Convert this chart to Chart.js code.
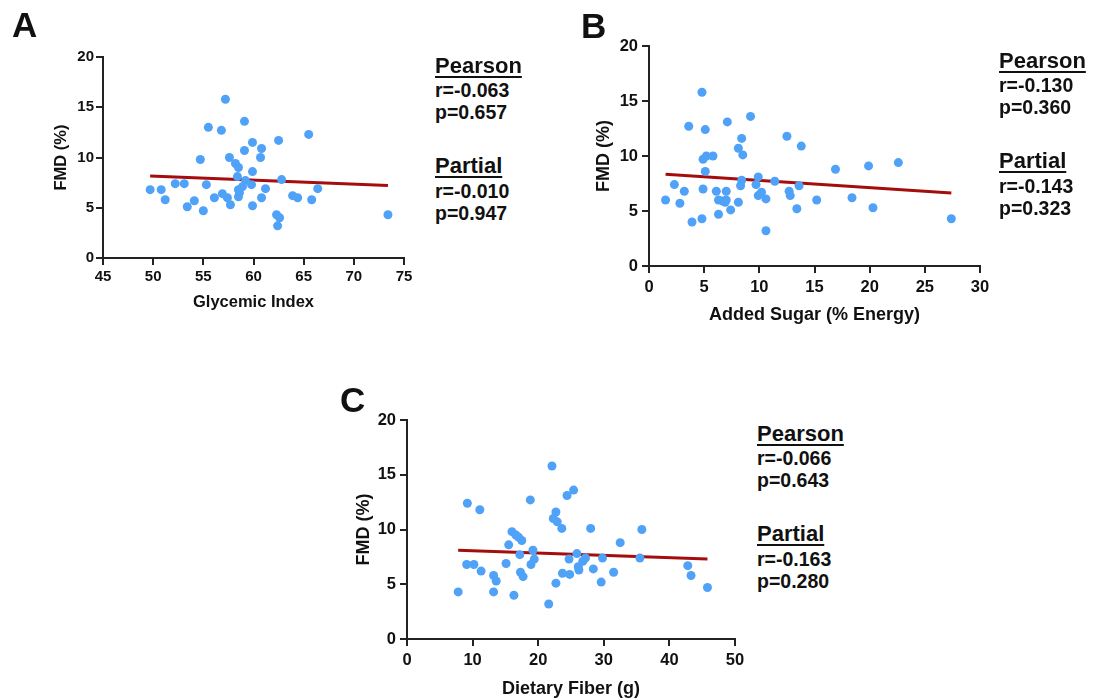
<!DOCTYPE html>
<html>
<head>
<meta charset="utf-8">
<script src="https://cdn.jsdelivr.net/npm/chart.js@4.4.1/dist/chart.umd.min.js"></script>
<style>
  html, body { margin: 0; padding: 0; background: #fff; overflow: hidden; }
  body { width: 1099px; height: 700px; position: relative; font-family: "Liberation Sans", Arial, sans-serif; color: #111; }
  canvas { position: absolute; }
  .letter { position: absolute; font-size: 35px; font-weight: bold; line-height: 1; }
  .stat { position: absolute; font-weight: bold; line-height: 1; white-space: nowrap; }
  .head { font-size: 22px; text-decoration: underline; text-decoration-thickness: 2px; text-underline-offset: 3px; }
  .val { font-size: 19.5px; }
</style>
</head>
<body>
<canvas id="chartA"></canvas>
<canvas id="chartB"></canvas>
<canvas id="chartC"></canvas>
<script>
// Panel A - Glycemic Index vs FMD
const giX = [49.7, 50.8, 51.2, 52.2, 53.1, 53.4, 54.1, 54.7, 55.0, 55.3, 55.5, 56.1, 56.8, 56.9, 57.2, 57.4, 57.6, 57.7, 58.2, 58.4,
             58.5, 58.5, 58.5, 58.6, 58.9, 59.1, 59.1, 59.2, 59.8, 59.9, 59.9, 59.9, 60.7, 60.8, 60.8, 61.2, 62.5, 62.3, 62.6, 62.4,
             62.8, 63.9, 64.4, 65.5, 65.8, 66.4, 73.4];
const giY = [6.8, 6.8, 5.8, 7.4, 7.4, 5.1, 5.7, 9.8, 4.7, 7.3, 13.0, 6.0, 12.7, 6.4, 15.8, 6.0, 10.0, 5.3, 9.4, 8.1,
             9.0, 6.8, 6.1, 6.5, 7.1, 10.7, 13.6, 7.7, 7.3, 8.6, 11.5, 5.2, 10.0, 10.9, 6.0, 6.9, 11.7, 4.3, 4.0, 3.2,
             7.8, 6.2, 6.0, 12.3, 5.8, 6.9, 4.3];
const giFitX = [49.7, 73.4];
const giFitY = [8.17, 7.21];

// Panel B - Added sugar vs FMD
const sugarX = [1.5, 2.3, 3.2, 2.8, 3.6, 3.9, 4.8, 4.8, 4.9, 4.9, 5.1, 5.2, 5.1, 5.8, 6.1, 6.3, 6.3, 6.7, 6.9, 7.0,
                7.0, 7.1, 7.4, 8.1, 8.1, 8.4, 8.5, 8.3, 8.4, 9.2, 9.7, 9.9, 9.9, 10.2, 10.6, 10.6, 11.4, 12.5, 12.7, 12.8,
                13.4, 13.6, 13.8, 15.2, 16.9, 18.4, 19.9, 20.3, 22.6, 27.4];
const sugarY = [6.0, 7.4, 6.8, 5.7, 12.7, 4.0, 15.8, 4.3, 9.7, 7.0, 12.4, 10.0, 8.6, 10.0, 6.8, 4.7, 6.0, 5.9, 5.8, 6.8,
                6.0, 13.1, 5.1, 5.8, 10.7, 11.6, 10.1, 7.3, 7.8, 13.6, 7.4, 8.1, 6.4, 6.7, 6.1, 3.2, 7.7, 11.8, 6.8, 6.4,
                5.2, 7.3, 10.9, 6.0, 8.8, 6.2, 9.1, 5.3, 9.4, 4.3];
const sugarFitX = [1.5, 27.4];
const sugarFitY = [8.35, 6.63];

// Panel C - Dietary fiber vs FMD
const fiberX = [7.8, 9.1, 9.2, 10.2, 11.1, 11.3, 13.2, 13.2, 13.6, 15.1, 15.5, 16.0, 16.3, 16.6, 17.0, 17.2, 17.5, 17.3, 17.7, 18.8,
                18.9, 19.2, 19.4, 21.6, 22.1, 22.3, 22.7, 22.7, 22.9, 23.6, 23.7, 24.4, 24.8, 24.7, 25.4, 25.9, 26.1, 26.2, 26.8, 27.2,
                28.0, 28.4, 29.6, 29.8, 31.5, 32.5, 35.5, 35.8, 42.8, 43.3, 45.8];
const fiberY = [4.3, 6.8, 12.4, 6.8, 11.8, 6.2, 4.3, 5.8, 5.3, 6.9, 8.6, 9.8, 4.0, 9.5, 9.3, 7.7, 9.0, 6.1, 5.7, 12.7,
                6.8, 8.1, 7.3, 3.2, 15.8, 11.0, 11.6, 5.1, 10.7, 10.1, 6.0, 13.1, 5.9, 7.3, 13.6, 7.8, 6.6, 6.3, 7.1, 7.4,
                10.1, 6.4, 5.2, 7.4, 6.1, 8.8, 7.4, 10.0, 6.7, 5.8, 4.7];
const fiberFitX = [7.8, 45.8];
const fiberFitY = [8.10, 7.31];

// Labels and stats
const panelLetters = ['A', 'B', 'C'];
const xTitles = ['Glycemic Index', 'Added Sugar (% Energy)', 'Dietary Fiber (g)'];
const yTitle = 'FMD (%)';
const statHeads = ['Pearson', 'Partial'];
const pearsonR = ['-0.063', '-0.130', '-0.066'];
const pearsonP = ['0.657', '0.360', '0.643'];
const partialR = ['-0.010', '-0.143', '-0.163'];
const partialP = ['0.947', '0.323', '0.280'];

const FONT = '"Liberation Sans", Arial, sans-serif';
const INK = '#111111';
const pointBlue = '#4fa2f7';
const fitRed = '#a50d0d';

function toPoints(xs, ys) {
    return xs.map((x, i) => ({ x: x, y: ys[i] }));
}

function makePanel(id, box, area, cfg) {
    const canvas = document.getElementById(id);
    canvas.width = box.w;
    canvas.height = box.h;
    canvas.style.left = box.x + 'px';
    canvas.style.top = box.y + 'px';

    const yAxisWidth = area.left - box.x;
    const xAxisHeight = cfg.xAxisHeight;

    const axisCommon = {
        type: 'linear',
        border: { display: true, color: '#222', width: 2 },
        grid: { display: true, drawOnChartArea: false, drawTicks: true, tickLength: 7, color: '#222', lineWidth: 2 }
    };

    return new Chart(canvas, {
        type: 'scatter',
        data: {
            datasets: [{
                data: toPoints(cfg.xs, cfg.ys),
                backgroundColor: pointBlue,
                borderWidth: 0,
                pointRadius: 4.5,
                order: 1
            }, {
                type: 'line',
                data: toPoints(cfg.fitX, cfg.fitY),
                borderColor: fitRed,
                borderWidth: 3,
                pointRadius: 0,
                fill: false,
                order: 2
            }]
        },
        options: {
            responsive: false,
            animation: false,
            devicePixelRatio: 1,
            layout: {
                padding: {
                    left: 0,
                    top: area.top - box.y,
                    right: box.x + box.w - area.right,
                    bottom: box.y + box.h - area.bottom - xAxisHeight
                }
            },
            plugins: { legend: { display: false }, tooltip: { enabled: false } },
            scales: {
                x: {
                    ...axisCommon,
                    min: cfg.xMin,
                    max: cfg.xMax,
                    ticks: { stepSize: cfg.xStep, color: INK, padding: cfg.xTickPad,
                             font: { family: FONT, size: cfg.tickSize, weight: 'bold' } },
                    title: { display: true, text: cfg.xTitle, color: INK, padding: { top: 0, bottom: cfg.xTitlePad },
                             font: { family: FONT, size: cfg.titleSize, weight: 'bold' } },
                    afterFit: s => { s.height = xAxisHeight; }
                },
                y: {
                    ...axisCommon,
                    min: 0,
                    max: 20,
                    ticks: { stepSize: 5, color: INK, padding: cfg.yTickPad,
                             font: { family: FONT, size: cfg.tickSize, weight: 'bold' } },
                    title: { display: true, text: yTitle, color: INK, padding: { top: cfg.yTitlePad, bottom: 0 },
                             font: { family: FONT, size: cfg.titleSize, weight: 'bold' } },
                    afterFit: s => { s.width = yAxisWidth; }
                }
            }
        }
    });
}

// Chart A
makePanel('chartA', { x: 30, y: 30, w: 400, h: 300 }, { left: 103, top: 57, right: 404, bottom: 258 }, {
    xs: giX, ys: giY, fitX: giFitX, fitY: giFitY, xMin: 45, xMax: 75, xStep: 5,
    xTitle: xTitles[0], tickSize: 15, titleSize: 16.5, xAxisHeight: 60,
    xTickPad: 3, yTickPad: 2, xTitlePad: 6, yTitlePad: 22
});

// Chart B
makePanel('chartB', { x: 560, y: 20, w: 440, h: 320 }, { left: 649, top: 46, right: 980, bottom: 266 }, {
    xs: sugarX, ys: sugarY, fitX: sugarFitX, fitY: sugarFitY, xMin: 0, xMax: 30, xStep: 5,
    xTitle: xTitles[1], tickSize: 16.5, titleSize: 18, xAxisHeight: 70,
    xTickPad: 5, yTickPad: 4, xTitlePad: 10, yTitlePad: 33
});

// Chart C
makePanel('chartC', { x: 320, y: 395, w: 430, h: 305 }, { left: 407, top: 420, right: 735, bottom: 639 }, {
    xs: fiberX, ys: fiberY, fitX: fiberFitX, fitY: fiberFitY, xMin: 0, xMax: 50, xStep: 10,
    xTitle: xTitles[2], tickSize: 16.5, titleSize: 18, xAxisHeight: 61,
    xTickPad: 5, yTickPad: 4, xTitlePad: 0, yTitlePad: 33
});

// Panel letters and correlation text as real text
function addText(cls, text, left, top) {
    const el = document.createElement('div');
    el.className = cls;
    el.textContent = text;
    el.style.left = left + 'px';
    el.style.top = top + 'px';
    document.body.appendChild(el);
}

const letterPos = [[12, 7.4], [581, 8.4], [340, 382.4]];
panelLetters.forEach((l, i) => addText('letter', l, letterPos[i][0], letterPos[i][1]));

// x and baseline of the "Pearson" line for each panel
const statPos = [[435, 74], [999, 69], [757, 442]];
const lineOffsets = [0, 24, 46, 100, 125, 147];
statPos.forEach(([x, base], i) => {
    const lines = [
        ['stat head', statHeads[0], 22],
        ['stat val', 'r=' + pearsonR[i], 19.5],
        ['stat val', 'p=' + pearsonP[i], 19.5],
        ['stat head', statHeads[1], 22],
        ['stat val', 'r=' + partialR[i], 19.5],
        ['stat val', 'p=' + partialP[i], 19.5]
    ];
    lines.forEach(([cls, text, size], k) => {
        addText(cls, text, x, base + lineOffsets[k] - 0.8465 * size);
    });
});
</script>
</body>
</html>
